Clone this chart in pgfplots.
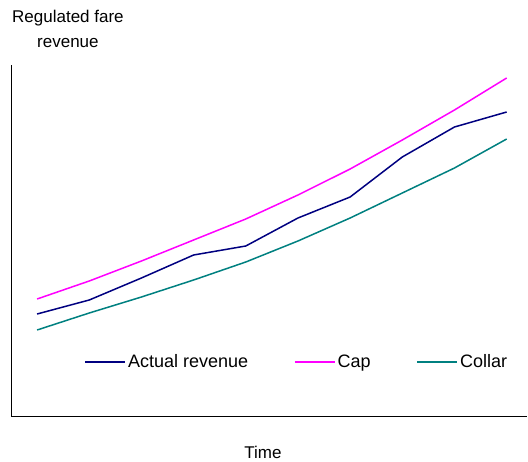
\documentclass[border=0pt]{standalone}
\usepackage{fontspec}
\setmainfont{Liberation Sans}
\usepackage{pgfplots}
\pgfplotsset{compat=1.18}
\definecolor{actualc}{RGB}{0,0,128}
\definecolor{capc}{RGB}{255,0,255}
\definecolor{collarc}{RGB}{0,128,128}
\begin{document}
\begin{tikzpicture}
\begin{axis}[
  name=ax,
  scale only axis,
  width=516pt, height=351pt,
  xmin=-0.5, xmax=9.39, ymin=0, ymax=351,
  axis x line=bottom, axis y line=left,
  axis line style={-, black, line width=1pt},
  xtick=\empty, ytick=\empty,
  clip=false,
  legend columns=3,
  legend style={draw=none, fill=none, at={(rel axis cs:0.554,0.154)}, anchor=center,
    font=\fontsize{18}{21}\selectfont,
    /tikz/every even column/.append style={column sep=44pt}},
  legend image code/.code={\draw[#1] (0pt,0pt) -- (40pt,0pt);},
]
\addplot[actualc, line width=1.5pt] coordinates {
 (0,102) (1,116) (2,138) (3,161) (4,170) (5,198) (6,219) (7,259) (8,289) (9,304)};
\addlegendentry{Actual revenue}
\addplot[capc, line width=1.5pt] coordinates {
 (0,117) (1,135) (2,155) (3,176) (4,197) (5,221) (6,247) (7,276) (8,306) (9,338)};
\addlegendentry{Cap}
\addplot[collarc, line width=1.5pt] coordinates {
 (0,86) (1,103) (2,119) (3,136) (4,154) (5,175) (6,198) (7,223) (8,248) (9,277)};
\addlegendentry{Collar}
\end{axis}
\path (ax.south west) ++(-11pt,-45pt) coordinate (bbA);
\path (ax.north east) ++(1pt,65pt) coordinate (bbB);
\path (bbA) rectangle (bbB);
\node[anchor=base west, inner sep=0pt, font=\fontsize{17}{20}\selectfont] at ([shift={(1pt,42pt)}]ax.north west) {Regulated fare};
\node[anchor=base west, inner sep=0pt, font=\fontsize{17}{20}\selectfont] at ([shift={(26pt,17pt)}]ax.north west) {revenue};
\node[anchor=base, inner sep=0pt, font=\fontsize{17}{20}\selectfont] at ([shift={(252pt,-42pt)}]ax.south west) {Time};
\end{tikzpicture}
\end{document}
